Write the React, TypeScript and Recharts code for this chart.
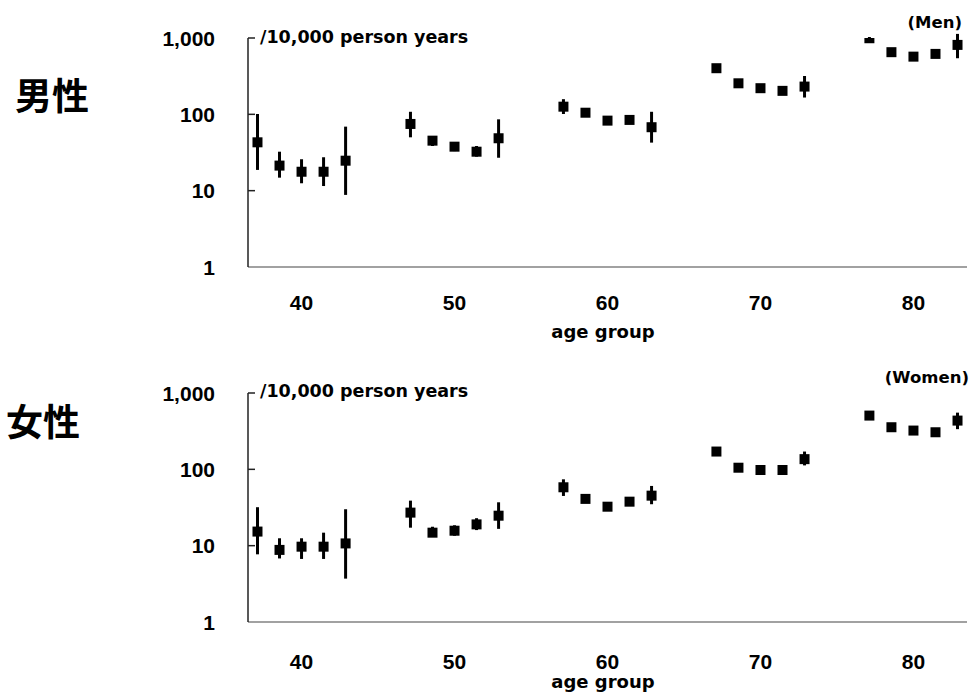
import React from 'react';
import { ScatterChart, Scatter, XAxis, YAxis, ErrorBar } from 'recharts';

// Age group centres; five periods are plotted around each centre
const ageGroups = [40, 50, 60, 70, 80];
const yTicks = [1, 10, 100, 1000];

// Men: rate per 10,000 person years with lower / upper limits
const menRate = [43, 21.3, 17.7, 17.7, 24.7, 74.8, 45.2, 37.7, 32.4, 48.6, 126, 105, 82.7, 84.5, 67.8, 402, 255, 220, 203, 231, 993, 652, 570, 619, 812];
const menLow = [18.7, 14.8, 12.5, 11.5, 8.8, 50, 38.5, 33, 27.9, 27, 101, 95, 76, 77, 42.6, 370, 235, 203, 187, 166, 960, 610, 535, 580, 543];
const menHigh = [101, 32.4, 25.8, 27.4, 69, 108, 52, 43, 38.5, 86, 158, 115, 90, 92, 108, 435, 275, 238, 220, 318, 1030, 695, 605, 660, 1132];

// Women
const womenRate = [15.3, 8.8, 9.7, 9.7, 10.7, 27.1, 14.8, 15.7, 19, 24.7, 58.2, 41, 32.4, 37.7, 45.2, 171, 105, 98, 98, 136, 506, 356, 322, 306, 435];
const womenLow = [7.7, 6.8, 6.7, 6.7, 3.7, 17.2, 13.1, 13.5, 16, 16.6, 44.8, 37, 29.5, 34.5, 34.9, 152, 96, 90, 90, 112.6, 470, 330, 298, 284, 336];
const womenHigh = [31.9, 12.5, 12.5, 14.8, 30, 38.9, 17.7, 18.5, 22.9, 37, 74, 45, 35.5, 41, 60.6, 193, 114, 106, 106, 171, 545, 383, 346, 330, 553];

const SUB_STEP = 1.44; // spacing of the periods inside an age group (years)
const TICK_GAP = 33;

const tickFont = '"Liberation Sans", Arial, sans-serif';
const labelFont = '"DejaVu Sans", sans-serif';
const cjkFont = '"Noto Sans CJK JP", sans-serif';

const buildPoints = (rate: number[], low: number[], high: number[]) =>
  rate.map((v, i) => ({
    age: ageGroups[Math.floor(i / 5)] + ((i % 5) - 2) * SUB_STEP,
    rate: v,
    ci: [v - low[i], high[i] - v],
  }));

const menData = buildPoints(menRate, menLow, menHigh);
const womenData = buildPoints(womenRate, womenLow, womenHigh);

const YTick = (props: any) => {
  const { x, y, payload } = props;
  return (
    <g>
      <text x={x} y={y} dy="0.36em" textAnchor="end" fontFamily={tickFont} fontWeight="bold" fontSize={21} fill="#000">
        {payload.value.toLocaleString('en-US')}
      </text>
      {payload.value > 1 && (
        <line x1={x + TICK_GAP} x2={x + TICK_GAP + 7} y1={y} y2={y} stroke="#222" strokeWidth={1.5} />
      )}
    </g>
  );
};

const Square = (props: any) => (
  <rect x={props.cx - 5} y={props.cy - 5} width={10} height={10} fill="#000" />
);

const Panel = ({ data, height, xGap }: { data: any[]; height: number; xGap: number }) => (
  <ScatterChart width={970} height={height} margin={{ top: 38, right: 3, bottom: 0, left: 0 }}>
    <XAxis
      dataKey="age"
      type="number"
      domain={[36.5, 83.5]}
      ticks={ageGroups}
      interval={0}
      height={height - 267}
      tickLine={false}
      tickSize={0}
      tickMargin={xGap}
      axisLine={{ stroke: '#444', strokeWidth: 1.2 }}
      tick={{ fontFamily: tickFont, fontWeight: 'bold', fontSize: 21, fill: '#000' }}
      allowDataOverflow
    />
    <YAxis
      dataKey="rate"
      type="number"
      scale="log"
      domain={[1, 1000]}
      ticks={yTicks}
      interval={0}
      width={248}
      tickLine={false}
      tickSize={0}
      tickMargin={TICK_GAP}
      axisLine={{ stroke: '#222', strokeWidth: 1.5 }}
      tick={<YTick />}
      allowDataOverflow
    />
    <Scatter data={data} fill="#000" shape={<Square />} isAnimationActive={false}>
      <ErrorBar dataKey="ci" direction="y" width={0} strokeWidth={3} stroke="#000" isAnimationActive={false} />
    </Scatter>
  </ScatterChart>
);

export default function App() {
  const label = { fontFamily: labelFont, fontWeight: 'bold' as const, fill: '#000' };
  return (
    <div style={{ position: 'absolute', left: 0, top: 0, width: 970, height: 693, overflow: 'hidden', background: '#fff' }}>
      <div style={{ position: 'absolute', left: 0, top: 0 }}>
        <Panel data={menData} height={340} xGap={28} />
      </div>
      <div style={{ position: 'absolute', left: 0, top: 355 }}>
        <Panel data={womenData} height={338} xGap={32} />
      </div>
      <svg width={970} height={693} style={{ position: 'absolute', left: 0, top: 0, pointerEvents: 'none' }}>
        <text x={15} y={110} fontFamily={cjkFont} fontWeight="bold" fontSize={37} fill="#000">男性</text>
        <text x={6} y={436} fontFamily={cjkFont} fontWeight="bold" fontSize={37} fill="#000">女性</text>
        <text x={260} y={43} fontSize={17.5} {...label}>/10,000 person years</text>
        <text x={260} y={397} fontSize={17.5} {...label}>/10,000 person years</text>
        <text x={962} y={28} fontSize={16.5} textAnchor="end" {...label}>(Men)</text>
        <text x={969} y={383} fontSize={16.5} textAnchor="end" {...label}>(Women)</text>
        <text x={603} y={338} fontSize={18} textAnchor="middle" {...label}>age group</text>
        <text x={603} y={688} fontSize={18} textAnchor="middle" {...label}>age group</text>
      </svg>
    </div>
  );
}
